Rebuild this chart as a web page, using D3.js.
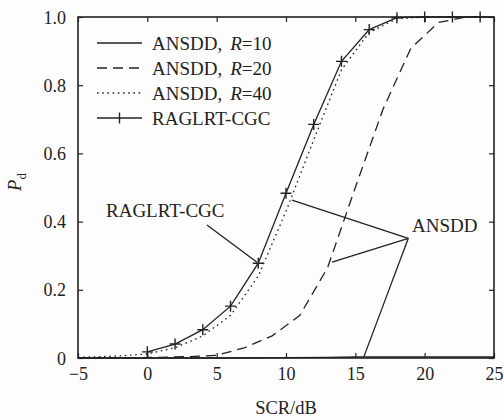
<!DOCTYPE html>
<html><head><meta charset="utf-8">
<script src="https://cdn.jsdelivr.net/npm/d3@7"></script>
<style>
html,body{margin:0;padding:0;background:#fdfdfd;}
svg{display:block;}
text{font-family:"Liberation Serif","Times New Roman",serif;fill:#222;}
</style></head>
<body><svg id="c" width="504" height="420"></svg>
<script>
// ---- data ----
const xTicks = [-5, 0, 5, 10, 15, 20, 25];
const xTickLabels = ["\u22125", "0", "5", "10", "15", "20", "25"];
const yTicks = [0, 0.2, 0.4, 0.6, 0.8, 1.0];
const yTickLabels = ["0", "0.2", "0.4", "0.6", "0.8", "1.0"];

// ANSDD, R=10 (solid, stays near zero)
const r10X = [-5, 0, 5, 10, 13, 15, 17, 20, 25];
const r10Y = [0, 0, 0, 0.001, 0.002, 0.003, 0.003, 0.003, 0.003];
// ANSDD, R=20 (dashed)
const r20X = [-5, -3, -1, 1, 3, 5, 7, 9, 11, 13, 15, 17, 19, 21, 23, 25];
const r20Y = [0, 0, 0.001, 0.002, 0.004, 0.008, 0.03, 0.065, 0.125, 0.265, 0.5, 0.73, 0.908, 0.984, 1.0, 1.0];
// ANSDD, R=40 (dotted)
const r40X = [-5, -4, -2, 0, 2, 4, 6, 8, 10, 12, 14, 16, 18, 20, 22, 24, 25];
const r40Y = [0.002, 0.003, 0.006, 0.012, 0.03, 0.065, 0.125, 0.24, 0.43, 0.64, 0.845, 0.955, 0.995, 1.0, 1.0, 1.0, 1.0];
// RAGLRT-CGC (solid with + markers)
const ragX = [0, 2, 4, 6, 8, 10, 12, 14, 16, 18, 20, 22, 24];
const ragY = [0.018, 0.041, 0.083, 0.152, 0.278, 0.483, 0.685, 0.87, 0.963, 0.998, 1.0, 1.0, 1.0];

const legendLabels = ["ANSDD", "ANSDD", "ANSDD", "RAGLRT-CGC"];
const legendR = ["10", "20", "40", null];
const xLabel = "SCR/dB";

// ---- layout ----
const svg = d3.select("#c");
const L = 78, R = 494, T = 17, B = 358;
const x = d3.scaleLinear().domain([-5, 25]).range([L, R]);
const y = d3.scaleLinear().domain([0, 1]).range([B, T]);
const ink = "#222";

const series = [
  {xs: r10X, ys: r10Y, dash: null},
  {xs: r20X, ys: r20Y, dash: "10,6"},
  {xs: r40X, ys: r40Y, dash: "1.6,3.6"},
  {xs: ragX, ys: ragY, dash: null, marker: true}
];
const line = d3.line().x(d => x(d[0])).y(d => y(d[1]));

const plot = svg.append("g");
series.forEach(s => {
  const pts = s.xs.map((v, i) => [v, s.ys[i]]);
  plot.append("path").attr("d", line(pts)).attr("fill", "none")
    .attr("stroke", ink).attr("stroke-width", 1.3)
    .attr("stroke-dasharray", s.dash);
  if (s.marker) {
    plot.selectAll(null).data(pts).enter().append("path")
      .attr("d", d => `M${x(d[0]) - 5.5},${y(d[1])}H${x(d[0]) + 5.5}M${x(d[0])},${y(d[1]) - 5.5}V${y(d[1]) + 5.5}`)
      .attr("stroke", ink).attr("stroke-width", 1.4);
  }
});

// axes (ticks inward, on all four sides)
const tick = 5;
const axB = svg.append("g").attr("transform", `translate(0,${B})`)
  .call(d3.axisBottom(x).tickValues(xTicks).tickSize(-tick).tickFormat((d, i) => xTickLabels[i]).tickPadding(9));
const axT = svg.append("g").attr("transform", `translate(0,${T})`)
  .call(d3.axisTop(x).tickValues(xTicks).tickSize(-tick).tickFormat(""));
const axL = svg.append("g").attr("transform", `translate(${L},0)`)
  .call(d3.axisLeft(y).tickValues(yTicks).tickSize(-tick).tickFormat((d, i) => yTickLabels[i]).tickPadding(12));
const axR = svg.append("g").attr("transform", `translate(${R},0)`)
  .call(d3.axisRight(y).tickValues(yTicks).tickSize(-tick).tickFormat(""));
[axB, axT, axL, axR].forEach(a => {
  a.select(".domain").remove();
  a.selectAll("line").attr("stroke", ink).attr("stroke-width", 1.2);
  a.selectAll("text").attr("font-family", '"Liberation Serif", serif').attr("font-size", 18).attr("fill", ink);
});
axB.selectAll("text").attr("dy", "0.71em");
axL.selectAll("text").attr("dy", "0.34em");

svg.append("rect").attr("x", L).attr("y", T).attr("width", R - L).attr("height", B - T)
  .attr("fill", "none").attr("stroke", ink).attr("stroke-width", 1.6);

// axis titles
svg.append("text").attr("x", (L + R) / 2).attr("y", 414).attr("text-anchor", "middle")
  .attr("font-size", 18.5).text(xLabel);
const yl = svg.append("text").attr("transform", "translate(21,182) rotate(-90)")
  .attr("text-anchor", "middle").attr("font-size", 18.5);
yl.append("tspan").attr("font-style", "italic").text("P");
yl.append("tspan").attr("font-size", 13).attr("dy", 5).text("d");

// legend
const lg = svg.append("g");
const rowY = [43, 68, 93, 118];
series.forEach((s, i) => {
  const yy = rowY[i];
  lg.append("line").attr("x1", 97).attr("x2", 142).attr("y1", yy).attr("y2", yy)
    .attr("stroke", ink).attr("stroke-width", 1.3).attr("stroke-dasharray", s.dash);
  if (s.marker) lg.append("path").attr("d", `M119.5,${yy - 5.5}V${yy + 5.5}`).attr("stroke", ink).attr("stroke-width", 1.4);
  const t = lg.append("text").attr("x", 152).attr("y", yy + 6.5).attr("font-size", 19);
  t.append("tspan").text(legendLabels[i] + (legendR[i] ? "," : ""));
  if (legendR[i]) {
    t.append("tspan").attr("dx", 8).attr("font-style", "italic").text("R");
    t.append("tspan").text("=" + legendR[i]);
  }
});

// annotations (anchored in data coordinates)
const ann = svg.append("g").attr("stroke", ink).attr("stroke-width", 1.3);
ann.append("line").attr("x1", x(4.3)).attr("y1", y(0.39)).attr("x2", x(7.91)).attr("y2", y(0.281));
const hub = [18.82, 0.351];
[[10.43, 0.463], [13.32, 0.281], [15.62, 0.004]].forEach(p => {
  ann.append("line").attr("x1", x(hub[0])).attr("y1", y(hub[1])).attr("x2", x(p[0])).attr("y2", y(p[1]));
});
svg.append("text").attr("x", x(-2.98)).attr("y", y(0.413)).attr("font-size", 19).text("RAGLRT-CGC");
svg.append("text").attr("x", x(19.09)).attr("y", y(0.369)).attr("font-size", 19).text("ANSDD");
</script></body></html>
